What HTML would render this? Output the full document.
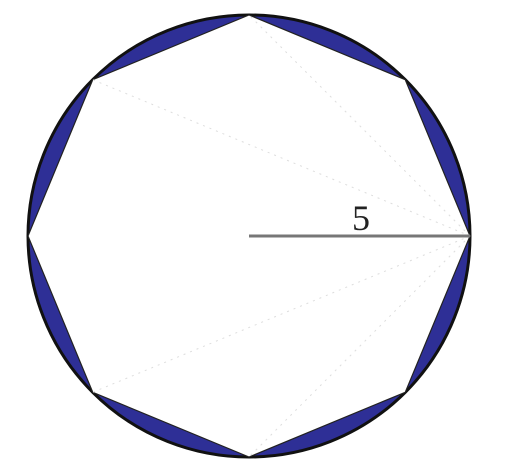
<!DOCTYPE html>
<html><head><meta charset="utf-8"><style>
html,body{margin:0;padding:0;background:#fff;}
svg{display:block;}
</style></head><body>
<svg width="514" height="472" viewBox="0 0 514 472">
  <g id="g"></g>
</svg>
<script>
const cx = 249, cy = 236, r = 221;
const sides = [8];
const diagonalTargets = [2, 3, 5, 6];
const radiusLabel = ["5"];
const ns = "http://www.w3.org/2000/svg";
const g = document.getElementById('g');
const n = sides[0];
const pts = [];
for (let i = 0; i < n; i++) {
  const a = -i * 2 * Math.PI / n;
  pts.push([cx + r * Math.cos(a), cy + r * Math.sin(a)]);
}
const c = document.createElementNS(ns, 'circle');
c.setAttribute('cx', cx); c.setAttribute('cy', cy); c.setAttribute('r', r);
c.setAttribute('fill', '#2e2f96'); c.setAttribute('stroke', '#111'); c.setAttribute('stroke-width', '3');


g.appendChild(c);
const poly = document.createElementNS(ns, 'polygon');
poly.setAttribute('points', pts.map(p => p.join(',')).join(' '));
poly.setAttribute('fill', '#fff'); poly.setAttribute('stroke', '#222'); poly.setAttribute('stroke-width', '1.2');


g.appendChild(poly);
for (const i of diagonalTargets) {
  const l = document.createElementNS(ns, 'line');
  l.setAttribute('x1', pts[0][0]); l.setAttribute('y1', pts[0][1]);
  l.setAttribute('x2', pts[i][0]); l.setAttribute('y2', pts[i][1]);
  l.setAttribute('stroke', '#ddd'); l.setAttribute('stroke-width', '1'); l.setAttribute('stroke-dasharray', '2,5');
  
  
  g.appendChild(l);
}
const rl = document.createElementNS(ns, 'line');
rl.setAttribute('x1', cx); rl.setAttribute('y1', cy);
rl.setAttribute('x2', pts[0][0]); rl.setAttribute('y2', cy);
rl.setAttribute('stroke', '#777'); rl.setAttribute('stroke-width', '3');


g.appendChild(rl);
const t = document.createElementNS(ns, 'text');
t.setAttribute('x', 361); t.setAttribute('y', 230);
t.setAttribute('text-anchor', 'middle');
t.setAttribute('font-family', '"Liberation Serif", serif');
t.setAttribute('font-size', '36'); t.setAttribute('fill', '#222');
t.textContent = radiusLabel[0];


g.appendChild(t);
</script>
</body></html>
